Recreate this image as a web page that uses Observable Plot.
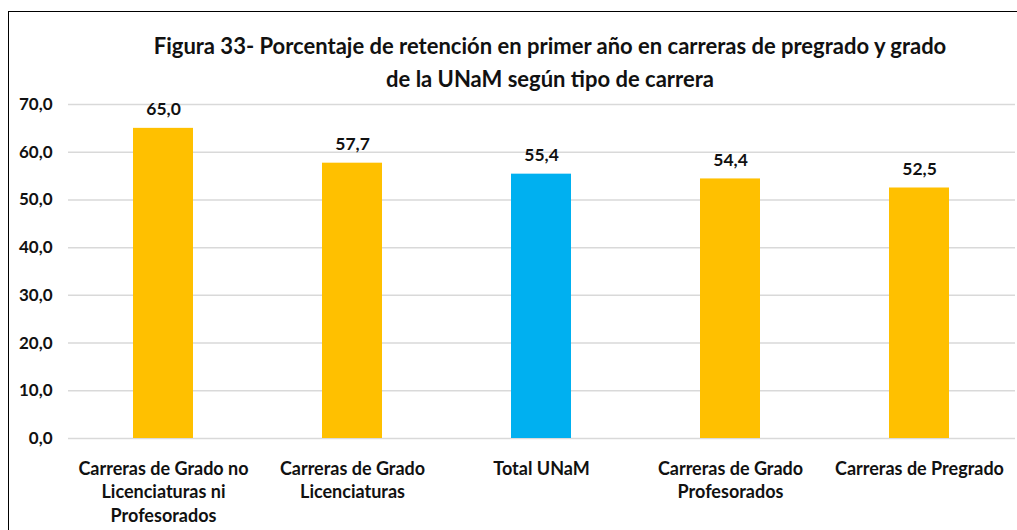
<!DOCTYPE html>
<html>
<head>
<meta charset="utf-8">
<script src="https://cdn.jsdelivr.net/npm/d3@7"></script>
<script src="https://cdn.jsdelivr.net/npm/@observablehq/plot@0.6"></script>
<style>
  body { margin: 0; background: #fff; }
  #wrap { position: relative; width: 1017px; height: 530px; overflow: hidden; font-family: Lato, "Open Sans", sans-serif; }
  #frame { position: absolute; left: 8px; top: 11px; width: 1100px; height: 600px; border-left: 1.5px solid #000; border-top: 1.5px solid #000; }
  #title { position: absolute; left: 0; width: 1100px; top: 29px; text-align: center; font-size: 22px; font-weight: bold; line-height: 33px; color: #111; }
  #chart { position: absolute; left: 0; top: 88px; }
</style>
</head>
<body>
<div id="wrap">
  <div id="frame"></div>
  <div id="title">Figura 33- Porcentaje de retención en primer año en carreras de pregrado y grado<br>de la UNaM según tipo de carrera</div>
  <div id="chart"></div>
</div>
<script>
const categories = [
  "Carreras de Grado no\nLicenciaturas ni\nProfesorados",
  "Carreras de Grado\nLicenciaturas",
  "Total UNaM",
  "Carreras de Grado\nProfesorados",
  "Carreras de Pregrado"
];
const values = [65.0, 57.7, 55.4, 54.4, 52.5];
const groups = ["tipo", "tipo", "total", "tipo", "tipo"];
const yTicks = [0, 10, 20, 30, 40, 50, 60, 70];

const data = categories.map((c, i) => ({cat: c, value: values[i], group: groups[i]}));
const fmt = v => v.toFixed(1).replace(".", ",");

const chart = Plot.plot({
  width: 1017,
  height: 442,
  marginLeft: 68,
  marginRight: 2,
  marginTop: 16,
  marginBottom: 92,
  style: {fontFamily: "Lato, 'Open Sans', sans-serif", color: "#111", background: "transparent"},
  x: {domain: categories, paddingInner: 0.68, paddingOuter: 0.34, label: null},
  y: {domain: [0, 70], label: null},
  color: {domain: ["tipo", "total"], range: ["#FFC000", "#00B0F0"]},
  marks: [
    Plot.ruleY(yTicks, {stroke: "#d9d9d9", strokeWidth: 1.5}),
    Plot.barY(data, {x: "cat", y: "value", fill: "group"}),
    Plot.text(data, {x: "cat", y: "value", text: d => fmt(d.value), dy: -19, fontSize: 17.5, fontWeight: "bold", fill: "#111"}),
    Plot.axisY({ticks: yTicks, tickFormat: fmt, tickSize: 0, tickPadding: 16, fontSize: 17, fontWeight: "bold", label: null}),
    Plot.axisX({tickSize: 0, tickPadding: 19, fontSize: 18, fontWeight: "bold", lineHeight: 1.33, label: null, lineAnchor: "top"})
  ]
});
document.getElementById("chart").appendChild(chart);
</script>
</body>
</html>
